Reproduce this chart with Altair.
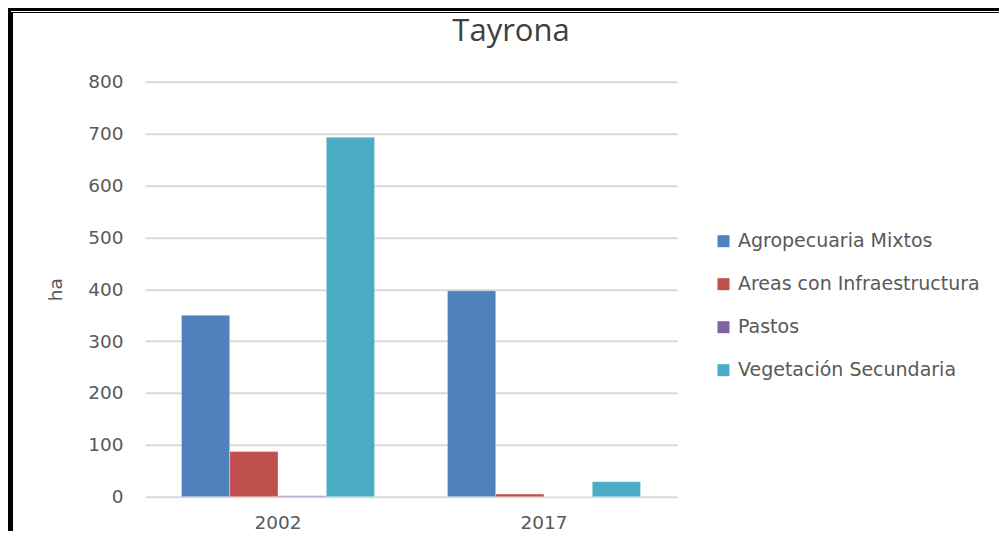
import altair as alt
import pandas as pd

years = ["2002", "2017"]
series = ["Agropecuaria Mixtos", "Areas con Infraestructura", "Pastos", "Vegetación Secundaria"]
colors = ["#4F81BD", "#C0504D", "#8064A2", "#4BACC6"]
agro = [350, 397]
areas = [87, 5]
pastos = [2, 0]
veg = [693, 29]

values = [agro, areas, pastos, veg]
rows = []
for s, vals in zip(series, values):
    for y, v in zip(years, vals):
        rows.append({"year": y, "serie": s, "ha": v})
df = pd.DataFrame(rows)

FONT = "DejaVu Sans"
TXT = "#595959"

bars = alt.Chart(df).mark_bar(stroke="white", strokeWidth=0.6, strokeOpacity=0.6).encode(
    x=alt.X("year:N", title=None,
            scale=alt.Scale(paddingInner=0.274, paddingOuter=0.137),
            axis=alt.Axis(labelAngle=0, labelFontSize=18.5, labelColor=TXT, labelFont=FONT,
                          labelPadding=17, domain=False, ticks=False, grid=False)),
    xOffset=alt.XOffset("serie:N", sort=series,
                        scale=alt.Scale(paddingInner=0, paddingOuter=0)),
    y=alt.Y("ha:Q", title="ha",
            scale=alt.Scale(domain=[0, 800]),
            axis=alt.Axis(values=list(range(0, 801, 100)), labelFontSize=18.5, labelColor=TXT,
                          labelFont=FONT, labelPadding=22, domain=False, ticks=False,
                          grid=True, gridColor="#D9D9D9", gridWidth=2,
                          titleFont=FONT, titleFontSize=18.5, titleColor=TXT,
                          titleFontWeight="normal", titlePadding=22)),
    color=alt.Color("serie:N", sort=series, scale=alt.Scale(domain=series, range=colors),
                    legend=alt.Legend(title=None, orient="none", legendX=569, legendY=150,
                                      symbolType="square", symbolSize=144, symbolStrokeWidth=0,
                                      labelFontSize=19, labelColor=TXT, labelFont=FONT,
                                      labelOffset=5, rowPadding=23, labelLimit=400)),
)

# decorative double frame (top and left edges)
frame_top1 = alt.Chart(df).mark_rule(color="black", strokeWidth=3).encode(
    x=alt.value(-137), x2=alt.value(854), y=alt.value(-72.2))
frame_top2 = alt.Chart(df).mark_rule(color="black", strokeWidth=1.2).encode(
    x=alt.value(-134), x2=alt.value(854), y=alt.value(-69.2))
frame_left1 = alt.Chart(df).mark_rule(color="black", strokeWidth=2.5).encode(
    x=alt.value(-135.8), y=alt.value(-73.7), y2=alt.value(460))
frame_left2 = alt.Chart(df).mark_rule(color="black", strokeWidth=1.2).encode(
    x=alt.value(-133.2), y=alt.value(-69.2), y2=alt.value(460))

chart = alt.layer(bars, frame_top1, frame_top2, frame_left1, frame_left2).properties(
    width=532, height=415,
    autosize=alt.AutoSizeParams(type="none"),
    padding={"left": 137, "top": 73.7, "right": 322, "bottom": 34},
    title=alt.TitleParams("Tayrona", fontSize=31, font="Open Sans", fontWeight="normal",
                          color="#404040", anchor="middle", dx=100, dy=41.5, offset=0),
).configure_view(stroke=None)

chart.save("out.html", embed_options={"renderer": "svg", "actions": False})
